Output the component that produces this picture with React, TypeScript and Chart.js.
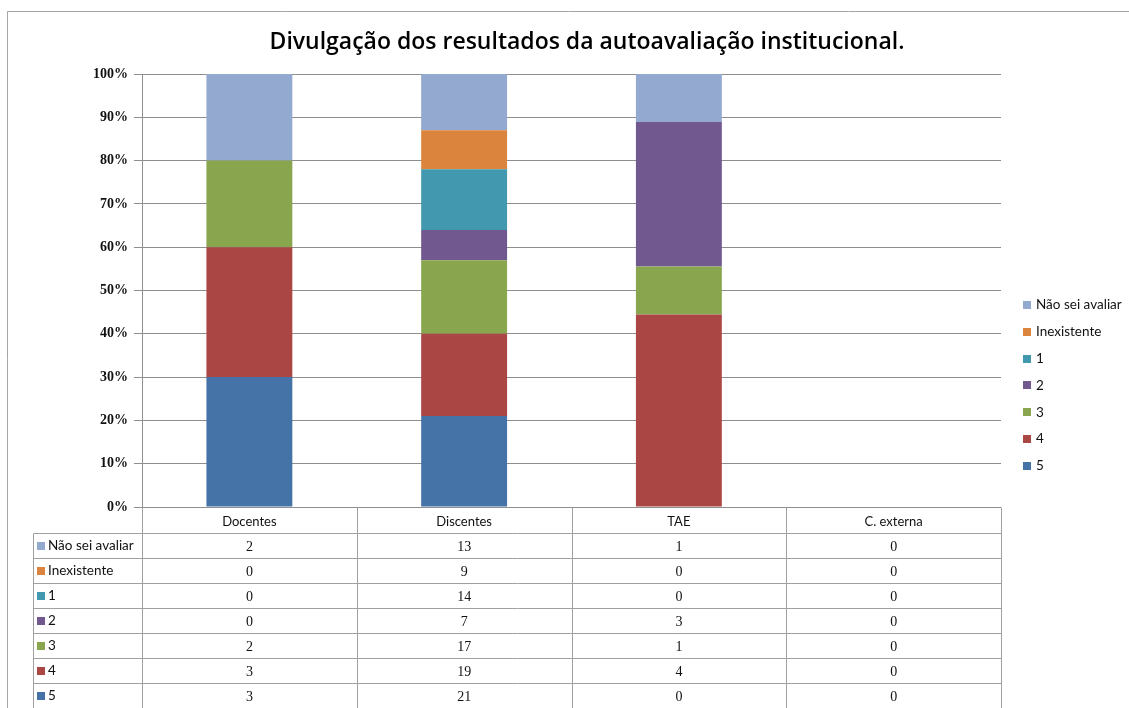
import React, { useEffect, useRef } from "react";
import { Chart, registerables } from "chart.js";

Chart.register(...registerables);

const TITLE = "Divulgação dos resultados da autoavaliação institucional.";
const categories = ["Docentes", "Discentes", "TAE", "C. externa"];
// stacking order bottom -> top
const seriesNames = ["5", "4", "3", "2", "1", "Inexistente", "Não sei avaliar"];
const s5 = [3, 21, 0, 0];
const s4 = [3, 19, 4, 0];
const s3 = [2, 17, 1, 0];
const s2 = [0, 7, 3, 0];
const s1 = [0, 14, 0, 0];
const sInexistente = [0, 9, 0, 0];
const sNaoSei = [2, 13, 1, 0];
const seriesCounts = [s5, s4, s3, s2, s1, sInexistente, sNaoSei];
const seriesColors = ["#4572A7", "#AA4643", "#89A54E", "#71588F", "#4198AF", "#DB843D", "#93A9CF"];
const yTickValues = [0, 10, 20, 30, 40, 50, 60, 70, 80, 90, 100];

const totals = categories.map((_, i) => seriesCounts.reduce((a, s) => a + s[i], 0));
const percentOf = (s: number[]) => s.map((v, i) => (totals[i] ? (v / totals[i]) * 100 : 0));

const W = 1129;
const H = 708;

const SANS = "Lato, 'Open Sans', sans-serif";
const TITLE_FONT = "'Open Sans', Lato, sans-serif";
const SERIF = "'Liberation Serif', 'DejaVu Serif', serif";

const decorPlugin = {
  id: "decor",
  beforeDraw(chart: any) {
    const ctx = chart.ctx;
    ctx.save();
    ctx.fillStyle = "#ffffff";
    ctx.fillRect(0, 0, W, H);
    // outer frame
    ctx.strokeStyle = "#a6a6a6";
    ctx.lineWidth = 1;
    ctx.beginPath();
    ctx.moveTo(7.5, H);
    ctx.lineTo(7.5, 11.5);
    ctx.lineTo(W, 11.5);
    ctx.stroke();
    // title
    ctx.fillStyle = "#000000";
    ctx.font = `600 23px ${TITLE_FONT}`;
    ctx.textAlign = "center";
    ctx.textBaseline = "middle";
    ctx.fillText(TITLE, 587, 42);
    ctx.restore();
  },
  afterDraw(chart: any) {
    const ctx = chart.ctx;
    const area = chart.chartArea;
    const x = chart.scales.x;
    const n = categories.length;
    const step = (area.right - area.left) / n;
    const bounds: number[] = [];
    for (let i = 0; i <= n; i++) bounds.push(Math.round(area.left + i * step) + 0.5);
    const labelLeft = 33.5;
    const top = Math.round(area.bottom) + 0.5;
    const headerBottom = top + 26;
    const rowH = 25;
    const order = [...seriesNames.keys()].reverse();

    ctx.save();
    ctx.strokeStyle = "#a0a0a0";
    ctx.lineWidth = 1;
    ctx.beginPath();
    for (const b of bounds) {
      ctx.moveTo(b, top);
      ctx.lineTo(b, H);
    }
    ctx.moveTo(labelLeft, headerBottom);
    ctx.lineTo(labelLeft, H);
    for (let r = 0; r <= order.length; r++) {
      const y = headerBottom + r * rowH;
      if (y > H) break;
      ctx.moveTo(labelLeft, y);
      ctx.lineTo(bounds[n], y);
    }
    ctx.stroke();

    // header
    ctx.fillStyle = "#111111";
    ctx.textAlign = "center";
    ctx.textBaseline = "middle";
    ctx.font = `13px ${SANS}`;
    categories.forEach((c, i) => {
      ctx.fillText(c, x.getPixelForValue(i), (top + headerBottom) / 2 + 1);
    });

    // rows
    order.forEach((si, r) => {
      const cy = headerBottom + r * rowH + rowH / 2;
      ctx.fillStyle = seriesColors[si];
      ctx.fillRect(37, Math.round(cy - 4), 8, 8);
      ctx.fillStyle = "#111111";
      ctx.textAlign = "left";
      ctx.font = `13.5px ${SANS}`;
      ctx.fillText(seriesNames[si], 48, cy);
      ctx.textAlign = "center";
      ctx.font = `14px ${SERIF}`;
      seriesCounts[si].forEach((v, i) => {
        ctx.fillText(String(v), x.getPixelForValue(i), cy + 1);
      });
    });

    // legend on the right
    order.forEach((si, r) => {
      const cy = 305 + r * 26.8;
      ctx.fillStyle = seriesColors[si];
      ctx.fillRect(1023, Math.round(cy - 4), 8, 8);
      ctx.fillStyle = "#111111";
      ctx.textAlign = "left";
      ctx.font = `13.5px ${SANS}`;
      ctx.fillText(seriesNames[si], 1036, cy);
    });
    ctx.restore();
  },
};

export default function App() {
  const ref = useRef<HTMLCanvasElement | null>(null);
  useEffect(() => {
    if (!ref.current) return;
    const chart = new Chart(ref.current, {
      type: "bar",
      data: {
        labels: categories,
        datasets: seriesNames.map((name, i) => ({
          label: name,
          data: percentOf(seriesCounts[i]),
          backgroundColor: seriesColors[i],
          borderWidth: 0,
          barPercentage: 1,
          categoryPercentage: 0.4,
        })),
      },
      options: {
        responsive: false,
        animation: false,
        layout: { padding: { left: 0, top: 74, right: W - 1001, bottom: H - 507 } },
        plugins: { legend: { display: false }, title: { display: false }, tooltip: { enabled: false } },
        scales: {
          x: { stacked: true, display: false },
          y: {
            stacked: true,
            min: 0,
            max: 100,
            afterFit: (s: any) => {
              s.width = 142;
            },
            afterBuildTicks: (s: any) => {
              s.ticks = yTickValues.map((v) => ({ value: v }));
            },
            ticks: {
              callback: (v: any) => `${v}%`,
              color: "#111111",
              font: { family: SERIF, size: 14, weight: "bold" },
              padding: 6,
            },
            grid: { color: "#8e8e8e", tickLength: 8, drawTicks: true },
            border: { display: true, color: "#8e8e8e" },
          },
        },
      },
      plugins: [decorPlugin],
    });
    return () => chart.destroy();
  }, []);
  return (
    <div style={{ position: "fixed", left: 0, top: 0, width: W, height: H, background: "#fff" }}>
      <canvas ref={ref} width={W} height={H} style={{ display: "block", width: W, height: H }} />
    </div>
  );
}
